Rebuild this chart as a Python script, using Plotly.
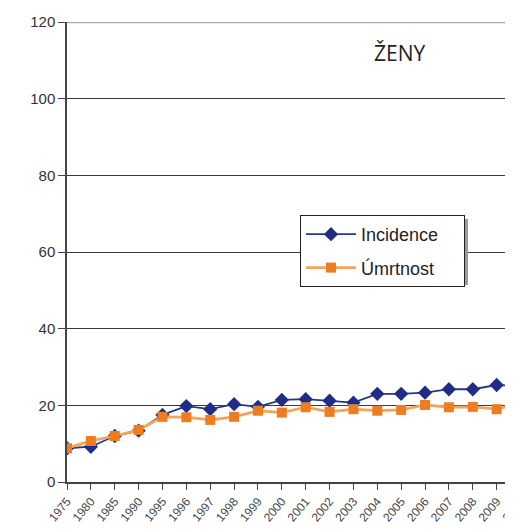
import plotly.graph_objects as go

years = ["1975", "1980", "1985", "1990", "1995", "1996", "1997", "1998", "1999", "2000",
         "2001", "2002", "2003", "2004", "2005", "2006", "2007", "2008", "2009", "2010"]
incidence = [8.8, 9.2, 12.0, 13.4, 17.5, 19.8, 19.0, 20.3, 19.6, 21.4,
             21.6, 21.2, 20.7, 23.0, 23.0, 23.3, 24.2, 24.2, 25.3, 25.0]
umrtnost = [8.8, 10.7, 12.0, 13.6, 17.0, 16.9, 16.2, 17.0, 18.6, 18.1,
            19.5, 18.3, 19.0, 18.6, 18.8, 20.1, 19.5, 19.6, 19.0, 20.5]
y_ticks = [0, 20, 40, 60, 80, 100, 120]

idx = list(range(len(years)))

fig = go.Figure()
fig.add_trace(go.Scatter(
    x=idx, y=incidence, name="Incidence\u00a0\u00a0\u00a0\u00a0", mode="lines+markers",
    legendgroup="a",
    line=dict(color="#26358f", width=1.8),
    marker=dict(symbol="diamond", size=11, color="#1f2d86"),
))
fig.add_trace(go.Scatter(
    x=idx, y=umrtnost, name="Úmrtnost", mode="lines+markers",
    legendgroup="b",
    line=dict(color="#f6a35c", width=2.8),
    marker=dict(symbol="square", size=10, color="#ee7d22"),
))

# page body has an 8px margin; positions below are in screen pixels
OFF = 8
W, H = 521, 531
L = 67 - OFF
T = 22 - OFF
B = H - (482 - OFF)
plot_w = W - L
plot_h = H - T - B
step = 23.87


def px(xs):
    return (xs - 67) / plot_w


def py(ys):
    return 1 - (ys - 22) / plot_h


fig.update_layout(
    width=W, height=H,
    margin=dict(l=L, r=0, t=T, b=B),
    paper_bgcolor="white", plot_bgcolor="white",
    font=dict(family="Liberation Sans, Arial, sans-serif", color="#333333"),
    showlegend=True,
    legend=dict(
        x=px(300), y=py(215),
        xanchor="left", yanchor="top",
        bgcolor="white", bordercolor="#222222", borderwidth=1,
        font=dict(size=18, color="#222222"),
        itemwidth=50, tracegroupgap=7,
    ),
    annotations=[dict(
        text="ŽENY", x=px(399), y=py(53),
        xref="paper", yref="paper", showarrow=False,
        xanchor="center", yanchor="middle",
        font=dict(size=21, color="#222222", family="Open Sans, Liberation Sans, sans-serif"),
    )],
    shapes=[
        dict(type="rect", xref="paper", yref="paper",
             x0=px(304), x1=px(468), y0=py(219), y1=py(285),
             fillcolor="#9a9a9a", line=dict(width=0), layer="above"),
        dict(type="line", xref="paper", yref="y", x0=0, x1=1, y0=120, y1=120,
             line=dict(color="#a8a8a8", width=2.5), layer="above"),
    ],
)
fig.update_xaxes(
    range=[0, plot_w / step],
    tickvals=idx, ticktext=years, tickangle=-50,
    tickfont=dict(size=12, color="#444444"),
    showgrid=False, zeroline=False,
    showline=True, linecolor="#444444", linewidth=1.5,
    ticks="outside", ticklen=6, tickcolor="#444444",
)
fig.update_yaxes(
    range=[0, 120], tickvals=y_ticks,
    tickfont=dict(size=15, color="#333333"),
    showgrid=True, gridcolor="#3a3a3a", gridwidth=1.2,
    zeroline=False,
    showline=True, linecolor="#444444", linewidth=1.5,
    ticks="outside", ticklen=7, tickcolor="#444444",
)
fig.write_html("out.html")
